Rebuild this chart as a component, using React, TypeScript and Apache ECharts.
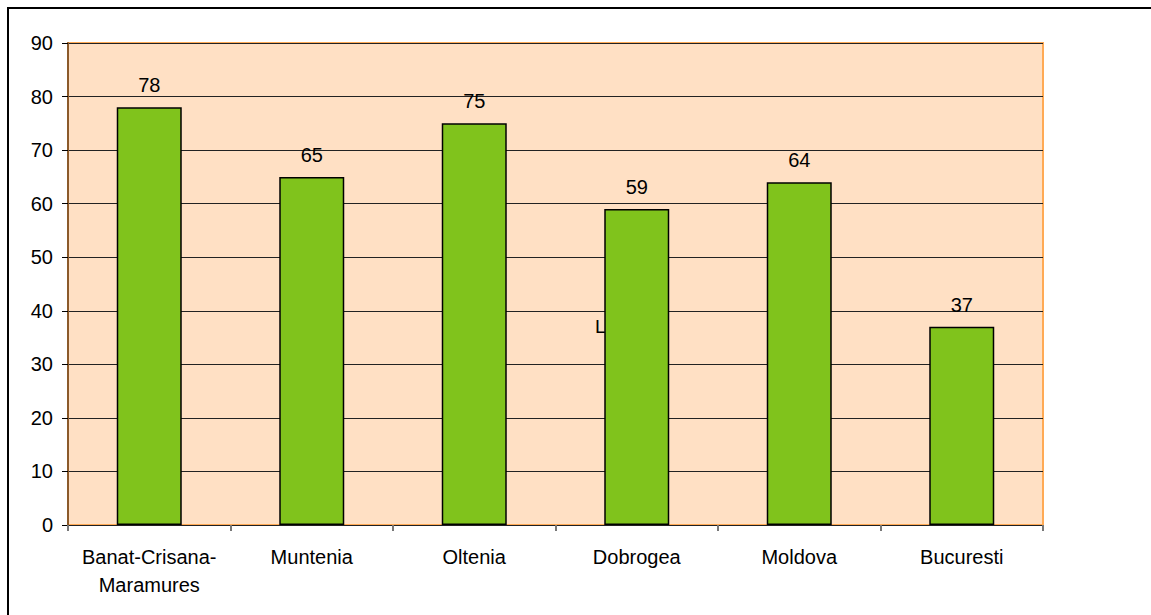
import React, { useEffect, useRef } from "react";
import * as echarts from "echarts";

const categories = ["Banat-Crisana-\nMaramures", "Muntenia", "Oltenia", "Dobrogea", "Moldova", "Bucuresti"];
const values = [78, 65, 75, 59, 64, 37];
const yTicks = { min: 0, max: 90, interval: 10 };

export default function App() {
  const ref = useRef<HTMLDivElement>(null);
  useEffect(() => {
    document.body.style.margin = "0";
    const chart = echarts.init(ref.current!, null, { renderer: "svg" });
    const font = "Liberation Sans, Arial, sans-serif";
    chart.setOption({
      animation: false,
      backgroundColor: "#ffffff",
      textStyle: { fontFamily: font },
      grid: {
        left: 68,
        right: 108,
        top: 43,
        bottom: 90,
        show: true,
        backgroundColor: "#FFE0C4",
        borderColor: "#FFAA55",
        borderWidth: 2,
      },
      xAxis: {
        type: "category",
        data: categories,
        boundaryGap: true,
        axisLine: { lineStyle: { color: "#222222", width: 1 } },
        axisTick: { show: true, length: 6, lineStyle: { color: "#777777", width: 2 } },
        axisLabel: { color: "#000", fontSize: 20, fontFamily: font, margin: 18, lineHeight: 28, interval: 0 },
      },
      yAxis: {
        type: "value",
        min: yTicks.min,
        max: yTicks.max,
        interval: yTicks.interval,
        axisLine: { show: true, lineStyle: { color: "#8B5A2B", width: 2 } },
        axisTick: { show: true, length: 6, inside: false, lineStyle: { color: "#000" } },
        axisLabel: { color: "#000", fontSize: 20, fontFamily: font, margin: 15 },
        splitLine: { show: true, lineStyle: { color: "#222222", width: 1 } },
      },
      series: [
        {
          type: "bar",
          data: values,
          barWidth: "40%",
          itemStyle: { color: "#80C31C", borderColor: "#000", borderWidth: 1.5 },
          label: { show: true, position: "top", distance: 12, color: "#000", fontSize: 20, fontFamily: font },
        },
      ],
      graphic: [
        {
          type: "rect",
          shape: { x: 8, y: 8, width: 1300, height: 800 },
          style: { fill: "none", stroke: "#000", lineWidth: 2 },
          silent: true,
        },
        {
          type: "text",
          x: 595,
          y: 317,
          style: { text: "L", fill: "#000", fontSize: 19, fontFamily: font },
        },
      ],
    });
    return () => chart.dispose();
  }, []);
  return <div ref={ref} style={{ width: 1151, height: 615 }} />;
}
